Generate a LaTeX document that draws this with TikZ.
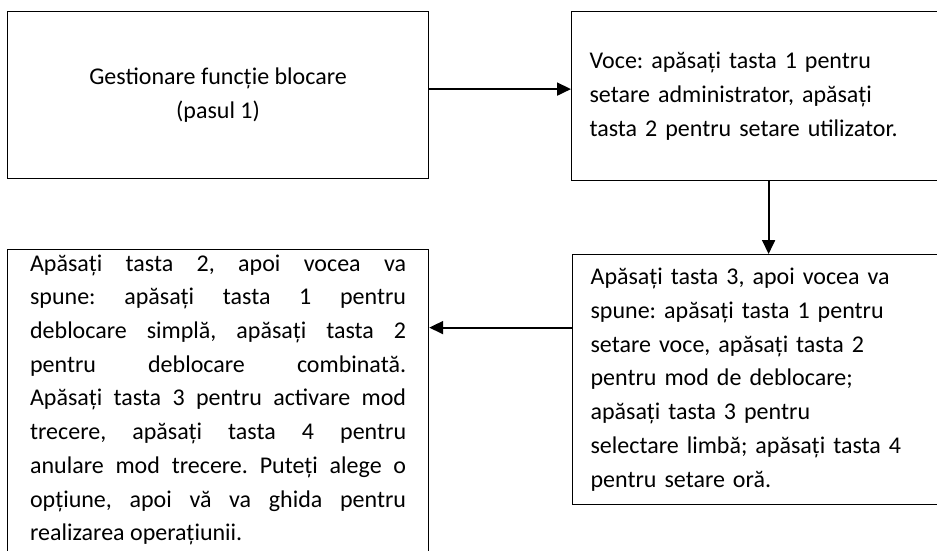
\documentclass[tikz,border=0pt]{standalone}
\usepackage{fontspec}
\setmainfont{Carlito}
\usetikzlibrary{arrows.meta}
\frenchspacing

\tikzset{
  box/.style={draw, line width=1.2pt, anchor=north west, inner sep=0pt,
    font=\fontsize{24}{33.7}\selectfont},
  flow/.style={line width=1.8pt, -{Triangle[length=14pt,width=13pt]}}
}

\begin{document}
\begin{tikzpicture}[x=1pt,y=-1pt]
  \useasboundingbox (0,0) rectangle (937,551);
  \clip (0,0) rectangle (937,551);
  % casete
  \node[box, minimum width=421pt, minimum height=167pt, align=center] (pas1) at (7,11)
    {Gestionare funcție blocare\\(pasul 1)};
  \node[box, minimum width=400pt, minimum height=169pt, text width=364pt, align=left] (voce) at (571,11)
    {Voce: apăsați tasta 1 pentru\\setare administrator, apăsați\\tasta 2 pentru setare utilizator.};
  \node[box, minimum width=400pt, minimum height=250pt, text width=364pt, align=left] (meniu) at (572,254)
    {Apăsați tasta 3, apoi vocea va\\spune: apăsați tasta 1 pentru\\setare voce, apăsați tasta 2\\pentru mod de deblocare;\\apăsați tasta 3 pentru\\selectare limbă; apăsați tasta 4\\pentru setare oră.};
  \node[box, minimum width=421pt, minimum height=330pt] (optiuni) at (7,249)
    {\parbox[c][320pt][t]{376pt}{%
      \makebox[\linewidth][s]{Apăsați tasta 2, apoi vocea va}\\
      \makebox[\linewidth][s]{spune: apăsați tasta 1 pentru}\\
      \makebox[\linewidth][s]{deblocare simplă, apăsați tasta 2}\\
      \makebox[\linewidth][s]{pentru deblocare combinată.}\\
      \makebox[\linewidth][s]{Apăsați tasta 3 pentru activare mod}\\
      \makebox[\linewidth][s]{trecere, apăsați tasta 4 pentru}\\
      \makebox[\linewidth][s]{anulare mod trecere. Puteți alege o}\\
      \makebox[\linewidth][s]{opțiune, apoi vă va ghida pentru}\\
      realizarea operațiunii.}};
  % sageti
  \draw[flow] ([yshift=6pt]pas1.east) -- ([yshift=6pt]pas1.east -| voce.west);
  \draw[flow] ([xshift=-3pt]voce.south) -- ([xshift=-3pt]voce.south |- meniu.north);
  \draw[flow] ([yshift=52pt]meniu.west) -- ([yshift=52pt]meniu.west -| optiuni.east);
\end{tikzpicture}
\end{document}
